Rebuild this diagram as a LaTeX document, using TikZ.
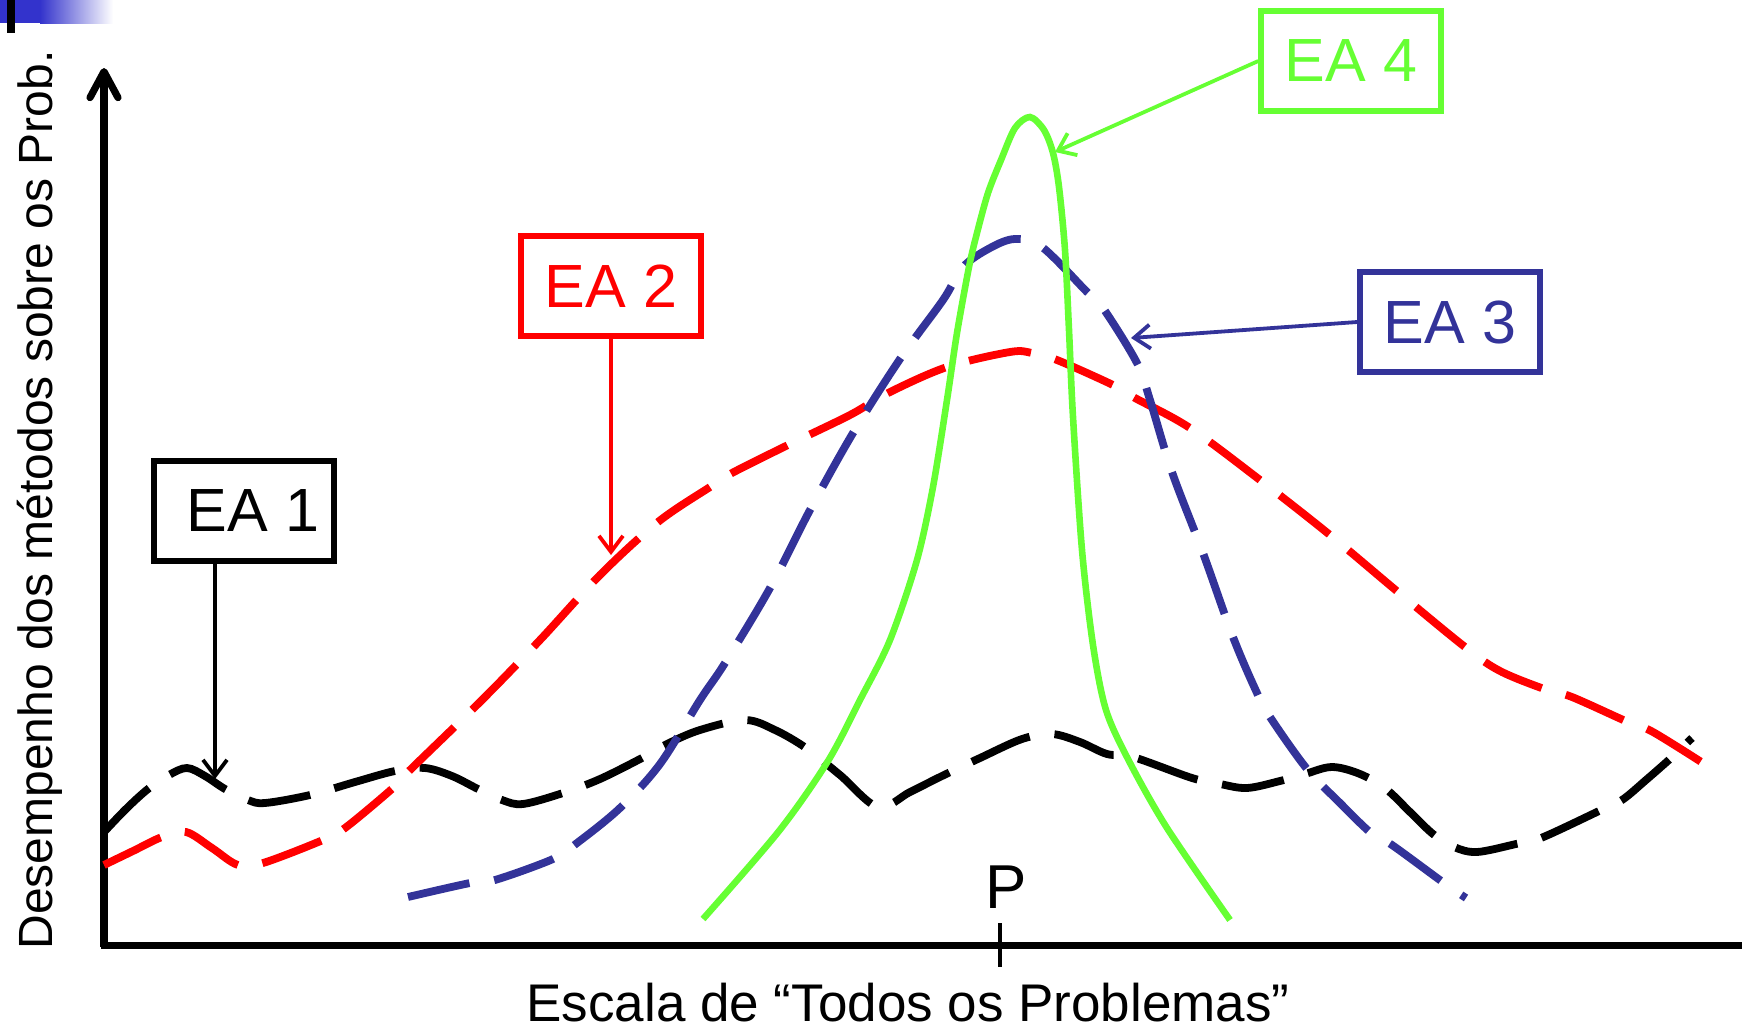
\documentclass[tikz,border=0pt]{standalone}
\usepackage{fontspec}
\setmainfont{Liberation Sans}
\usetikzlibrary{arrows.meta}
\definecolor{faixa}{HTML}{3333CC}
\definecolor{eaazul}{HTML}{333399}
\definecolor{eaverde}{HTML}{66FF33}
\definecolor{eavermelho}{HTML}{FF0000}

\begin{document}
\begin{tikzpicture}[x=0.5pt,y=-0.5pt,
		rotulo/.style={draw,line width=2.7pt,minimum width=90pt,minimum height=50pt,inner sep=0pt,font=\fontsize{30.5}{36}\selectfont},
		curva/.style={line width=3.9pt,dash pattern=on 31.5pt off 12.5pt},
		seta/.style={line width=1.9pt,-{Straight Barb[length=8pt,width=12pt]}},
		eixo/.style={line width=3.6pt}]
		\useasboundingbox (0,0) rectangle (1742,1029);
		\fill[faixa] (0,0) rectangle (40,23);
		\shade[left color=faixa,right color=white] (40,0) rectangle (113,23);
		\fill[black] (7,0) rectangle (15,33);
		
		\draw[eixo] (100.5,945.5) -- (1742,945.5);
		\draw[eixo,-{Straight Barb[length=13pt,width=14pt,round]}] (104,947) -- (104,68);
		\draw[line width=2pt] (1000,923) -- (1000,967);
		\node[anchor=base,inner sep=0pt,font=\fontsize{31}{36}\selectfont] (p) at (1006,908) {P};
		\node[anchor=base,inner sep=0pt,font=\fontsize{26.5}{30}\selectfont] (xlab) at (908,1021) {Escala de “Todos os Problemas”};
		\node[anchor=base,inner sep=0pt,rotate=90,font=\fontsize{24}{28}\selectfont] (ylab) at (53,500) {Desempenho dos métodos sobre os Prob.};
		
		\draw[curva,black] plot[smooth,tension=.55] coordinates {(104,832) (126,809) (148,789) (169,775) (187,768) (205,776) (225,789) (248,800) (265,803) (310,795) (355,782) (395,771) (425,768) (452,776) (478,789) (502,800) (523,804) (563,793) (600,779) (642,758) (667,744) (700,730) (745,720) (775,730) (806,748) (840,775) (878,807) (910,792) (942,776) (980,758) (1022,739) (1052,734) (1080,742) (1107,754) (1133,757) (1192,778) (1220,784) (1247,788) (1280,781) (1305,774) (1332,767) (1360,774) (1386,789) (1410,812) (1433,834) (1454,847) (1477,852) (1516,844) (1541,838) (1599,811) (1622,800) (1646,780) (1671,758) (1692,738)};
		\draw[curva,eavermelho] plot[smooth,tension=.55] coordinates {(104,865) (133,851) (162,837) (186,832) (212,848) (238,865) (263,863) (323,840) (345,828) (393,788) (410,770) (482,700) (540,640) (600,575) (658,522) (710,487) (732,473) (788,445) (850,415) (888,393) (947,367) (1010,352) (1032,353) (1057,360) (1113,385) (1135,398) (1190,428) (1260,480) (1330,535) (1398,592) (1465,647) (1500,671) (1547,690) (1572,697) (1630,723) (1653,732) (1706,765)};
		\draw[curva,eaazul] plot[smooth,tension=.55] coordinates {(408,897) (470,883) (495,880) (553,859) (577,843) (620,808) (660,764) (700,700) (725,663) (770,588) (810,510) (853,433) (900,359) (943,300) (963,267) (990,248) (1015,239) (1042,247) (1087,292) (1103,308) (1137,363) (1150,400) (1172,472) (1203,553) (1233,637) (1257,693) (1270,717) (1307,769) (1340,803) (1371,833) (1392,845) (1444,883) (1466,898)};
		\draw[line width=3.3pt,eaverde] plot[smooth,tension=.5] coordinates {(703,919) (779,831) (828,761) (860,700) (890,640) (917,560) (933,487) (947,400) (957,333) (969,267) (977,233) (988,193) (1001,160) (1015,128) (1030,117) (1044,130) (1053,153) (1059,187) (1065,250) (1069,330) (1073,417) (1082,550) (1093,645) (1106,710) (1129,761) (1167,828) (1230,920)};
		
		\node[rotulo] (ea1) at (244,511) {\hspace*{9pt}EA 1};
		\node[rotulo,eavermelho] (ea2) at (611,286) {EA 2};
		\node[rotulo,eaazul] (ea3) at (1450,322) {EA 3};
		\node[rotulo,eaverde] (ea4) at (1351,61) {EA 4};
		
		\coordinate (a1) at (215,779);
		\coordinate (a2) at (611,555);
		\coordinate (a3) at (1131,338);
		\coordinate (a4) at (1055,152);
		\draw[seta] (ea1.south -| a1) -- (a1);
		\draw[seta,eavermelho] (ea2) -- (a2);
		\draw[seta,eaazul] (ea3.west) -- (a3);
		\draw[seta,eaverde] (ea4.west) -- (a4);
	\end{tikzpicture}
\end{document}
